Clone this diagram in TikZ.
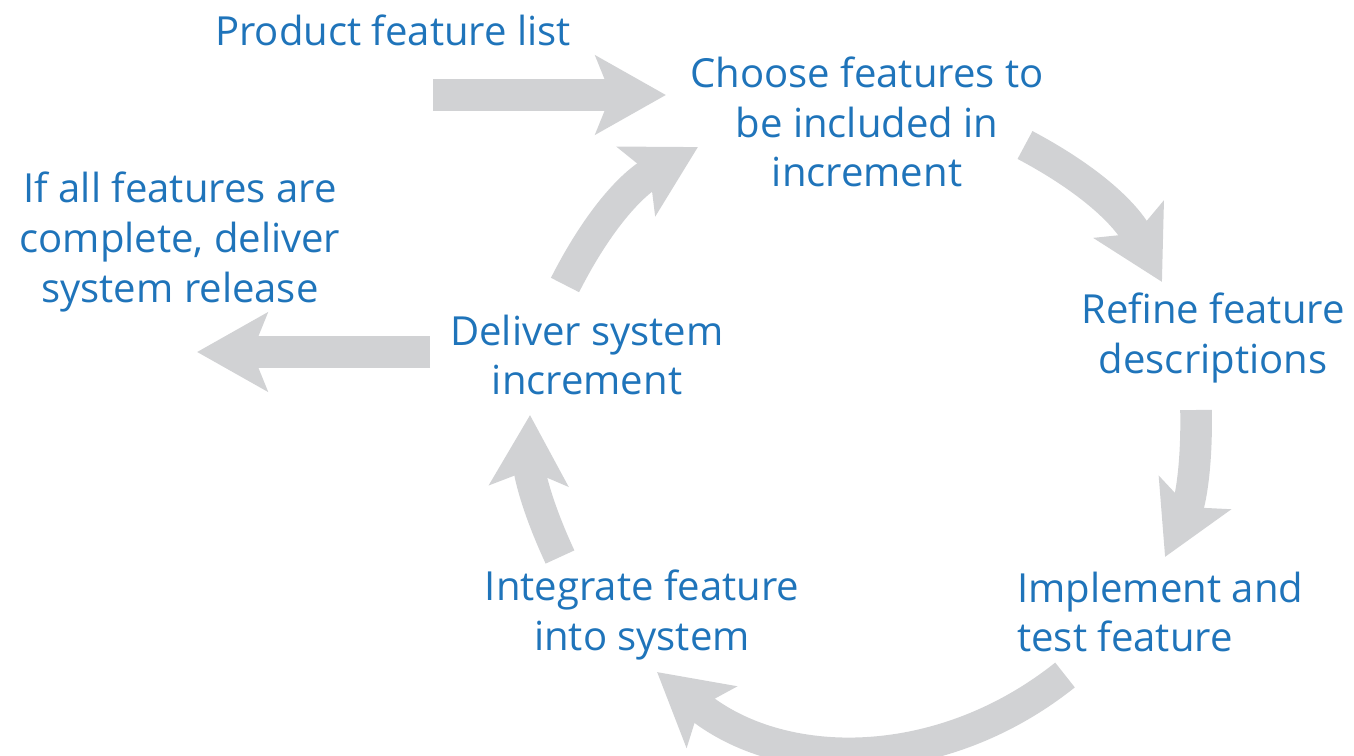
\documentclass[tikz,border=0pt]{standalone}
\usepackage{fontspec}
\setmainfont{Open Sans}
\usetikzlibrary{positioning, calc, arrows.meta}
\definecolor{txtblue}{HTML}{1F74BA}
\definecolor{arrgray}{HTML}{D1D2D4}
\tikzset{
  lbl/.style={text=txtblue, font=\fontsize{22.8}{28.3}\selectfont, align=center, inner sep=0pt},
  flow/.style={draw=arrgray, line width=18pt, -{Stealth[length=1.4cm, width=1.55cm, inset=0.3cm]}},
}
\begin{document}
\begin{tikzpicture}[x=0.02cm, y=0.02cm]
        \useasboundingbox (0,0) rectangle (1354,-756);
        %testi
        \node[lbl] (list) at (393,-30) {Product feature list};
        \node[lbl] (choose) at (867,-122) {Choose features to\\be included in\\increment};
        \node[lbl] (refine) at (1213,-338) {Refine feature\\descriptions};
        \node[lbl, align=left, anchor=west] (impl) at (1017,-612) {Implement and\\test feature};
        \node[lbl] (integ) at (642,-615) {Integrate feature\\into system};
        \node[lbl] (deliv) at (587,-355) {Deliver system\\increment};
        \node[lbl] (release) at (180,-242) {If all features are\\complete, deliver\\system release};
        %estremi delle frecce
        \coordinate (a0) at (433,-95);   \coordinate (a1) at (666,-95);
        \coordinate (b0) at (1025,-145); \coordinate (b1) at (1162,-282);
        \coordinate (c0) at (1196,-410); \coordinate (c1) at (1165,-557);
        \coordinate (d0) at (1065,-675); \coordinate (d1) at (657,-672);
        \coordinate (e0) at (560,-557);  \coordinate (e1) at (530,-415);
        \coordinate (f0) at (565,-285);  \coordinate (f1) at (698,-147);
        \coordinate (g0) at (430,-352);  \coordinate (g1) at (197,-352);
        %frecce
        \draw[flow] (a0) -- (a1);
        \draw[flow] (b0) to [bend left=17] (b1);
        \draw[flow] (c0) to [bend left=13] (c1);
        \draw[flow] (d0) to [bend left=39] (d1);
        \draw[flow] (e0) to [bend left=13] (e1);
        \draw[flow] (f0) to [bend left=17] (f1);
        \draw[flow] (g0) -- (g1);
    \end{tikzpicture}
\end{document}
